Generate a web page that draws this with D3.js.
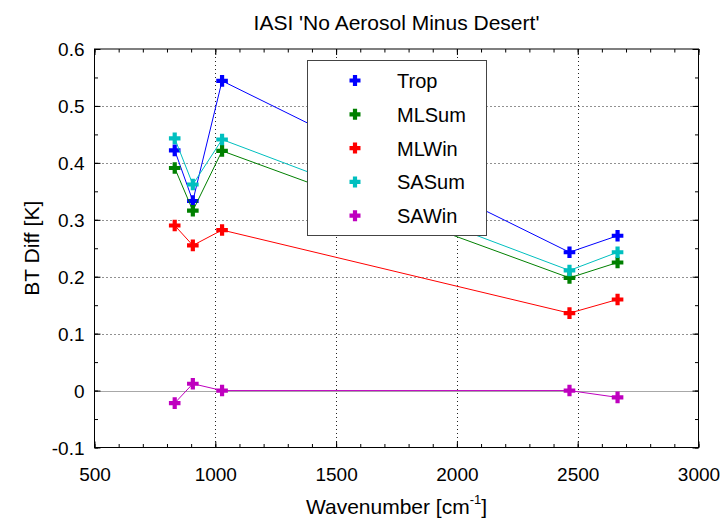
<!DOCTYPE html>
<html>
<head>
<meta charset="utf-8">
<script src="https://cdn.jsdelivr.net/npm/d3@7"></script>
<style>
  html, body { margin: 0; padding: 0; background: #fff; }
  svg { display: block; font-family: "Liberation Sans", Arial, Helvetica, sans-serif; }
</style>
</head>
<body>
<svg id="chart" width="725" height="525"></svg>
<script>
// Wavenumbers of the IASI channels (cm^-1)
const wavenumbers = [832, 907, 1028, 2466, 2665];

// BT difference per atmosphere profile [K]
const seriesNames = ["Trop", "MLSum", "MLWin", "SASum", "SAWin"];
const trop  = [0.422, 0.333, 0.544, 0.243, 0.272];
const mlSum = [0.391, 0.316, 0.421, 0.198, 0.225];
const mlWin = [0.290, 0.255, 0.282, 0.136, 0.160];
const saSum = [0.443, 0.362, 0.441, 0.211, 0.243];
const saWin = [-0.022, 0.012, 0.000, 0.000, -0.012];
const seriesColors = ["#0000ff", "#008000", "#ff0000", "#00bfbf", "#bf00bf"];

const xTicks = [500, 1000, 1500, 2000, 2500, 3000];
const yTicks = [-0.1, 0, 0.1, 0.2, 0.3, 0.4, 0.5, 0.6];

const series = [trop, mlSum, mlWin, saSum, saWin].map((vals, i) => ({
  name: seriesNames[i], color: seriesColors[i],
  points: vals.map((v, j) => ({ x: wavenumbers[j], y: v }))
}));

const svg = d3.select("#chart");
const L = 94.5, R = 698.5, T = 49, B = 447.5;

const x = d3.scaleLinear().domain([500, 3000]).range([L, R]);
const y = d3.scaleLinear().domain([-0.1, 0.6]).range([B, T]);

// dotted grid
const grid = svg.append("g").attr("stroke", "#222").attr("stroke-width", 1)
  .attr("stroke-dasharray", "1,3");
xTicks.slice(1, -1).forEach(t => grid.append("line")
  .attr("x1", Math.round(x(t)) + 0.5).attr("x2", Math.round(x(t)) + 0.5)
  .attr("y1", T).attr("y2", B));
yTicks.slice(1, -1).forEach(t => grid.append("line")
  .attr("y1", Math.round(y(t)) + 0.5).attr("y2", Math.round(y(t)) + 0.5)
  .attr("x1", L).attr("x2", R));

// zero reference line
svg.append("line").attr("x1", L).attr("x2", R)
  .attr("y1", Math.round(y(0)) + 0.5).attr("y2", Math.round(y(0)) + 0.5)
  .attr("stroke", "#a8a8a8").attr("stroke-width", 1);

// axes with inward ticks on all four sides
const xMinor = d3.range(500, 3001, 100);
const yMinor = d3.range(-0.1, 0.6001, 0.05);
function addAxis(gen, tr) {
  const g = svg.append("g").attr("transform", tr).call(gen);
  g.select(".domain").remove();
  g.selectAll("line").attr("stroke", "#000");
  return g;
}
addAxis(d3.axisBottom(x).tickValues(xMinor).tickSize(-3.5).tickFormat(""), `translate(0,${B})`);
addAxis(d3.axisTop(x).tickValues(xMinor).tickSize(-3.5).tickFormat(""), `translate(0,${T})`);
addAxis(d3.axisLeft(y).tickValues(yMinor).tickSize(-3.5).tickFormat(""), `translate(${L},0)`);
addAxis(d3.axisRight(y).tickValues(yMinor).tickSize(-3.5).tickFormat(""), `translate(${R},0)`);

const xAx = addAxis(d3.axisBottom(x).tickValues(xTicks).tickSize(-6).tickPadding(0)
  .tickFormat(d3.format("d")), `translate(0,${B})`);
xAx.selectAll("text").attr("font-size", 19).attr("fill", "#000").attr("dy", null).attr("y", 33);
addAxis(d3.axisTop(x).tickValues(xTicks).tickSize(-6).tickFormat(""), `translate(0,${T})`);
const yAx = addAxis(d3.axisLeft(y).tickValues(yTicks).tickSize(-6).tickPadding(0)
  .tickFormat(d => String(+d.toFixed(1))), `translate(${L},0)`);
yAx.selectAll("text").attr("font-size", 19).attr("fill", "#000").attr("x", -10).attr("dy", "0.35em");
addAxis(d3.axisRight(y).tickValues(yTicks).tickSize(-6).tickFormat(""), `translate(${R},0)`);

svg.append("rect").attr("x", L).attr("y", T).attr("width", R - L).attr("height", B - T)
  .attr("fill", "none").attr("stroke", "#000").attr("stroke-width", 1);

// series lines and markers
const line = d3.line().x(d => x(d.x)).y(d => y(d.y));
const plus = (g, cx, cy, s, color) => {
  g.append("path")
    .attr("d", `M${cx - s},${cy}H${cx + s}M${cx},${cy - s}V${cy + s}`)
    .attr("stroke", color).attr("stroke-width", 4.2).attr("fill", "none");
};
series.forEach(s => {
  const g = svg.append("g");
  g.append("path").datum(s.points).attr("d", line)
    .attr("fill", "none").attr("stroke", s.color).attr("stroke-width", 1);
  s.points.forEach(p => plus(g, x(p.x), y(p.y), 5.8, s.color));
});

// legend
const lg = svg.append("g");
lg.append("rect").attr("x", 307.5).attr("y", 60.5).attr("width", 179).attr("height", 175)
  .attr("fill", "#fff").attr("stroke", "#444").attr("stroke-width", 1);
series.forEach((s, i) => {
  const cy = 80.5 + i * 33.8;
  plus(lg, 355, cy, 5.5, s.color);
  lg.append("text").attr("x", 397).attr("y", cy + 7.5).attr("font-size", 20)
    .attr("fill", "#000").text(s.name);
});

// title and axis labels
svg.append("text").attr("x", (L + R) / 2).attr("y", 30).attr("text-anchor", "middle")
  .attr("font-size", 21).attr("fill", "#000").text("IASI 'No Aerosol Minus Desert'");
svg.append("text").attr("transform", `translate(39,${(T + B) / 2}) rotate(-90)`)
  .attr("text-anchor", "middle").attr("font-size", 21).attr("fill", "#000").text("BT Diff [K]");
const xl = svg.append("text").attr("x", (L + R) / 2).attr("y", 514).attr("text-anchor", "middle")
  .attr("font-size", 21).attr("fill", "#000");
xl.append("tspan").text("Wavenumber [cm");
xl.append("tspan").attr("font-size", 13).attr("dy", -10).text("-1");
xl.append("tspan").attr("dy", 10).text("]");
</script>
</body>
</html>
